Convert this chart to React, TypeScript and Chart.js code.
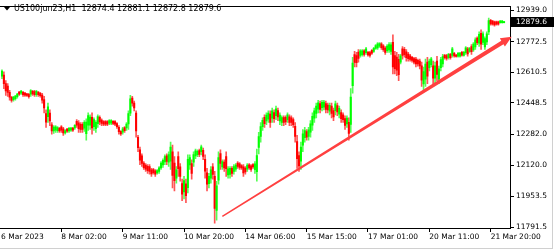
import React, { useEffect, useRef } from 'react';
import { Chart, registerables } from 'chart.js';

Chart.register(...registerables);

const SYMBOL = 'US100jun23,H1';

// H1 bars, oldest first
const OPENS = [
  12591, 12596, 12551, 12538, 12505, 12478, 12466, 12471, 12482, 12506,
  12500, 12505, 12501, 12497, 12495, 12495, 12510, 12509, 12493, 12505,
  12500, 12490, 12466, 12393, 12376, 12395, 12333, 12300, 12304, 12302,
  12314, 12322, 12311, 12290, 12310, 12300, 12304, 12315, 12316, 12352,
  12343, 12335, 12335, 12315, 12286, 12331, 12331, 12373, 12323, 12312,
  12339, 12372, 12358, 12350, 12350, 12350, 12342, 12342, 12351, 12350,
  12339, 12320, 12298, 12294, 12318, 12316, 12338, 12395, 12474, 12448,
  12395, 12266, 12200, 12168, 12130, 12119, 12113, 12112, 12094, 12096,
  12089, 12078, 12086, 12105, 12120, 12137, 12168, 12135, 12140, 12190,
  12130, 12050, 12165, 12110, 12022, 11977, 12020, 12000, 12120, 12128,
  12135, 12168, 12175, 12197, 12190, 12198, 12150, 12078, 12021, 12050,
  12110, 12060, 11880, 12040, 12180, 12110, 12136, 12165, 12068, 12070,
  12102, 12086, 12098, 12130, 12126, 12117, 12110, 12104, 12098, 12121,
  12115, 12122, 12095, 12085, 12213, 12272, 12323, 12373, 12353, 12363,
  12390, 12368, 12398, 12382, 12408, 12353, 12345, 12371, 12372, 12360,
  12375, 12370, 12360, 12325, 12244, 12170, 12140, 12225, 12265, 12297,
  12272, 12294, 12331, 12368, 12393, 12416, 12446, 12424, 12427, 12446,
  12438, 12405, 12432, 12408, 12408, 12435, 12389, 12398, 12386, 12366,
  12338, 12346, 12335, 12540, 12705, 12700, 12718, 12700, 12705, 12725,
  12715, 12717, 12716, 12727, 12722, 12738, 12740, 12749, 12762, 12752,
  12740, 12726, 12730, 12722, 12770, 12700, 12692, 12680, 12665, 12735,
  12733, 12720, 12708, 12699, 12690, 12684, 12681, 12674, 12671, 12645,
  12550, 12575, 12665, 12635, 12652, 12645, 12580, 12670, 12575, 12635,
  12655, 12701, 12700, 12688, 12706, 12700, 12712, 12703, 12696, 12697,
  12717, 12701, 12715, 12735, 12722, 12748, 12730, 12745, 12792, 12765,
  12818, 12770, 12745, 12772, 12825, 12887, 12882, 12878, 12878, 12878,
  12874, 12874, 12874.4,
];

const HIGHS = [
  12624, 12613, 12567, 12551, 12515, 12484, 12484, 12489, 12500, 12510,
  12515, 12510, 12505, 12500, 12500, 12520, 12515, 12515, 12515, 12510,
  12505, 12500, 12484, 12412, 12448, 12412, 12345, 12329, 12329, 12324,
  12319, 12329, 12319, 12308, 12314, 12319, 12319, 12319, 12334, 12360,
  12355, 12345, 12345, 12355, 12365, 12396, 12386, 12396, 12370, 12355,
  12386, 12381, 12365, 12355, 12355, 12355, 12360, 12360, 12355, 12355,
  12345, 12329, 12303, 12319, 12324, 12345, 12407, 12489, 12484, 12458,
  12407, 12277, 12215, 12179, 12138, 12127, 12122, 12122, 12102, 12102,
  12096, 12096, 12112, 12138, 12153, 12174, 12179, 12190, 12241, 12226,
  12164, 12112, 12190, 12127, 12045, 12060, 12045, 12174, 12174, 12148,
  12190, 12205, 12200, 12205, 12226, 12210, 12174, 12102, 12076, 12112,
  12127, 12086, 12034, 12190, 12200, 12148, 12148, 12190, 12112, 12112,
  12112, 12122, 12127, 12138, 12133, 12122, 12122, 12112, 12127, 12127,
  12122, 12127, 12138, 12205, 12293, 12345, 12370, 12386, 12396, 12407,
  12407, 12422, 12412, 12432, 12422, 12396, 12381, 12381, 12381, 12396,
  12386, 12381, 12370, 12345, 12277, 12190, 12241, 12308, 12319, 12308,
  12319, 12355, 12396, 12422, 12448, 12463, 12458, 12463, 12463, 12458,
  12448, 12448, 12448, 12422, 12458, 12448, 12432, 12412, 12396, 12381,
  12381, 12370, 12525, 12691, 12722, 12717, 12732, 12732, 12732, 12732,
  12743, 12722, 12722, 12732, 12743, 12758, 12768, 12768, 12768, 12758,
  12748, 12758, 12768, 12768, 12810, 12722, 12717, 12706, 12706, 12748,
  12743, 12732, 12717, 12706, 12696, 12691, 12691, 12681, 12681, 12665,
  12639, 12681, 12691, 12681, 12691, 12670, 12665, 12696, 12644, 12691,
  12706, 12706, 12706, 12712, 12712, 12743, 12717, 12706, 12717, 12717,
  12722, 12722, 12748, 12743, 12743, 12758, 12768, 12794, 12799, 12825,
  12836, 12825, 12799, 12825, 12898, 12892, 12887, 12882, 12882, 12882,
  12887, 12887, 12881.1,
];

const LOWS = [
  12577, 12525, 12489, 12484, 12463, 12453, 12458, 12463, 12474, 12489,
  12494, 12484, 12484, 12484, 12474, 12484, 12489, 12484, 12484, 12484,
  12479, 12448, 12396, 12319, 12345, 12329, 12283, 12288, 12293, 12293,
  12293, 12293, 12277, 12283, 12293, 12293, 12298, 12298, 12308, 12319,
  12293, 12293, 12293, 12298, 12252, 12303, 12308, 12283, 12303, 12293,
  12319, 12334, 12329, 12329, 12329, 12329, 12334, 12334, 12334, 12329,
  12314, 12283, 12277, 12283, 12293, 12303, 12308, 12381, 12432, 12407,
  12267, 12190, 12122, 12112, 12096, 12086, 12076, 12071, 12060, 12071,
  12060, 12071, 12076, 12096, 12107, 12122, 12122, 12112, 12096, 11998,
  11983, 12024, 12060, 12034, 11931, 11941, 11921, 11972, 12096, 12045,
  12112, 12153, 12164, 12164, 12174, 12148, 12050, 11983, 11998, 12024,
  12045, 11812, 11828, 12019, 12096, 12096, 12086, 12060, 12050, 12050,
  12060, 12071, 12086, 12102, 12096, 12096, 12060, 12071, 12086, 12096,
  12086, 12102, 12076, 12034, 12179, 12241, 12303, 12319, 12334, 12345,
  12319, 12345, 12345, 12360, 12355, 12334, 12329, 12329, 12334, 12345,
  12329, 12329, 12319, 12241, 12102, 12086, 12096, 12190, 12241, 12252,
  12252, 12267, 12303, 12345, 12370, 12396, 12396, 12407, 12412, 12396,
  12396, 12386, 12370, 12355, 12386, 12381, 12370, 12345, 12345, 12308,
  12319, 12252, 12293, 12500, 12639, 12639, 12665, 12691, 12696, 12696,
  12706, 12696, 12691, 12706, 12717, 12732, 12732, 12743, 12732, 12722,
  12706, 12717, 12717, 12706, 12603, 12603, 12593, 12567, 12655, 12681,
  12691, 12670, 12670, 12670, 12665, 12655, 12639, 12644, 12629, 12536,
  12515, 12536, 12551, 12619, 12639, 12541, 12551, 12567, 12551, 12619,
  12639, 12681, 12675, 12681, 12681, 12691, 12691, 12691, 12691, 12691,
  12696, 12696, 12706, 12696, 12717, 12706, 12722, 12732, 12758, 12748,
  12732, 12758, 12732, 12758, 12810, 12861, 12861, 12856, 12861, 12861,
  12872, 12872, 12872.8,
];

const CLOSES = [
  12617, 12551, 12512, 12504, 12479, 12462, 12480, 12485, 12496, 12495,
  12512, 12492, 12490, 12489, 12482, 12514, 12497, 12493, 12510, 12492,
  12487, 12464, 12422, 12347, 12428, 12354, 12301, 12321, 12322, 12318,
  12301, 12304, 12290, 12303, 12299, 12314, 12315, 12304, 12330, 12331,
  12312, 12308, 12308, 12346, 12348, 12382, 12374, 12317, 12360, 12346,
  12376, 12348, 12340, 12337, 12337, 12336, 12355, 12356, 12340, 12337,
  12323, 12297, 12285, 12312, 12302, 12337, 12392, 12470, 12448, 12422,
  12300, 12212, 12145, 12128, 12106, 12098, 12090, 12086, 12073, 12080,
  12071, 12091, 12105, 12130, 12145, 12164, 12139, 12175, 12215, 12065,
  12037, 12095, 12100, 12060, 11965, 12037, 11958, 12150, 12160, 12075,
  12175, 12195, 12193, 12176, 12216, 12166, 12087, 12018, 12060, 12095,
  12070, 11890, 12010, 12160, 12128, 12138, 12104, 12100, 12100, 12102,
  12076, 12112, 12120, 12112, 12107, 12104, 12078, 12083, 12119, 12105,
  12097, 12110, 12126, 12170, 12270, 12324, 12357, 12339, 12384, 12395,
  12345, 12407, 12365, 12418, 12375, 12384, 12371, 12345, 12348, 12386,
  12346, 12345, 12334, 12272, 12153, 12115, 12215, 12285, 12303, 12268,
  12306, 12338, 12378, 12407, 12432, 12450, 12415, 12452, 12453, 12415,
  12412, 12436, 12393, 12375, 12444, 12401, 12420, 12365, 12360, 12330,
  12369, 12287, 12480, 12660, 12664, 12662, 12685, 12725, 12725, 12706,
  12736, 12703, 12700, 12713, 12738, 12753, 12762, 12763, 12742, 12731,
  12716, 12750, 12758, 12756, 12640, 12630, 12622, 12598, 12698, 12700,
  12705, 12688, 12683, 12680, 12674, 12665, 12655, 12655, 12645, 12570,
  12615, 12655, 12590, 12670, 12682, 12580, 12645, 12600, 12630, 12678,
  12695, 12688, 12684, 12706, 12689, 12735, 12698, 12695, 12712, 12713,
  12702, 12717, 12741, 12708, 12738, 12720, 12760, 12783, 12768, 12812,
  12760, 12815, 12790, 12815, 12885, 12868, 12866, 12862, 12866, 12866,
  12883, 12883, 12879.6,
];

// time axis: bar index of each label, and its text
const X_TICK_INDEX = [-0.5, 31, 63, 95, 127, 159, 191, 223, 255];
const X_TICK_LABELS = [
  '6 Mar 2023', '8 Mar 02:00', '9 Mar 11:00', '10 Mar 20:00', '14 Mar 06:00',
  '15 Mar 15:00', '17 Mar 01:00', '20 Mar 11:00', '21 Mar 20:00',
];
const Y_TICKS = [11791.5, 11953.5, 12120.0, 12282.0, 12448.5, 12610.5, 12772.5, 12939.0];

const X_MIN = -0.52;
const X_MAX = 265.1;
const Y_MIN = 11786.3;
const Y_MAX = 12959.7;

// trend arrow: [bar index, price]
const ARROW_FROM = [115, 11848];
const ARROW_TO = [266, 12800];

const FONT = '"DejaVu Sans", Verdana, sans-serif';
const UP = '#00ff00';
const DOWN = '#ff0000';
const UP_WICK = '#55ff55';
const DOWN_WICK = '#ff5555';

const isUp = (i: number) => CLOSES[i] >= OPENS[i];

const overlay = {
  id: 'mtOverlay',
  afterDatasetsDraw(chart: any) {
    const ctx = chart.ctx;
    const xs = chart.scales.x;
    const ys = chart.scales.y;
    const x1 = xs.getPixelForValue(ARROW_FROM[0]);
    const y1 = ys.getPixelForValue(ARROW_FROM[1]);
    const x2 = xs.getPixelForValue(ARROW_TO[0]);
    const y2 = ys.getPixelForValue(ARROW_TO[1]);
    const dx = x2 - x1;
    const dy = y2 - y1;
    const len = Math.hypot(dx, dy);
    const ux = dx / len;
    const uy = dy / len;
    const nx = -uy;
    const ny = ux;
    const headLen = 11;
    const headW = 4.8;
    const w1 = 0.7;
    const w2 = 2.1;
    const bx = x2 - ux * headLen;
    const by = y2 - uy * headLen;
    ctx.save();
    ctx.beginPath();
    ctx.moveTo(x1 + nx * w1, y1 + ny * w1);
    ctx.lineTo(bx + nx * w2, by + ny * w2);
    ctx.lineTo(bx + nx * headW, by + ny * headW);
    ctx.lineTo(x2, y2);
    ctx.lineTo(bx - nx * headW, by - ny * headW);
    ctx.lineTo(bx - nx * w2, by - ny * w2);
    ctx.lineTo(x1 - nx * w1, y1 - ny * w1);
    ctx.closePath();
    ctx.fillStyle = '#ff4040';
    ctx.fill();
    ctx.restore();
  },
  afterDraw(chart: any) {
    const ctx = chart.ctx;
    const area = chart.chartArea;
    const ys = chart.scales.y;
    ctx.save();
    // top frame line
    ctx.fillStyle = '#000';
    ctx.fillRect(0, Math.floor(area.top), Math.round(area.right) + 1, 1);

    // window frame
    ctx.fillStyle = '#d0d0d0';
    ctx.fillRect(552, 0, 1, 249);
    ctx.fillRect(0, 248, 553, 1);

    // title
    const n = CLOSES.length - 1;
    const title = `${SYMBOL}  ${OPENS[n].toFixed(1)} ${HIGHS[n].toFixed(1)} ${LOWS[n].toFixed(1)} ${CLOSES[n].toFixed(1)}`;
    ctx.fillStyle = '#000';
    ctx.beginPath();
    ctx.moveTo(4, 7);
    ctx.lineTo(10, 7);
    ctx.lineTo(7, 10.5);
    ctx.closePath();
    ctx.fill();
    ctx.font = `8px ${FONT}`;
    ctx.textBaseline = 'middle';
    ctx.textAlign = 'left';
    ctx.fillText(title, 14, 9);

    // current price box
    ctx.font = `7.5px ${FONT}`;
    const yp = ys.getPixelForValue(CLOSES[n]);
    ctx.fillStyle = '#000';
    ctx.fillRect(Math.round(area.right) + 1, Math.round(yp - 5), 43, 10);
    ctx.fillStyle = '#fff';
    ctx.fillText(CLOSES[n].toFixed(1), 516, yp);
    ctx.restore();
  },
};

export default function App() {
  const ref = useRef<HTMLCanvasElement | null>(null);

  useEffect(() => {
    const canvas = ref.current;
    if (!canvas) return;
    const idx = OPENS.map((_, i) => i);
    const chart = new Chart(canvas, {
      type: 'bar',
      data: {
        datasets: [
          {
            label: 'body',
            data: idx.map((i) => ({ x: i, y: [OPENS[i], CLOSES[i]] })) as any,
            backgroundColor: idx.map((i) => (isUp(i) ? UP : DOWN)),
            borderWidth: 0,
            grouped: false,
            categoryPercentage: 1,
            barPercentage: 1,
            maxBarThickness: 1.4,
          } as any,
          {
            label: 'range',
            data: idx.map((i) => ({ x: i, y: [LOWS[i], HIGHS[i]] })) as any,
            backgroundColor: idx.map((i) => (isUp(i) ? UP_WICK : DOWN_WICK)),
            borderWidth: 0,
            grouped: false,
            categoryPercentage: 1,
            barPercentage: 1,
            maxBarThickness: 1,
          } as any,
        ],
      },
      options: {
        animation: false,
        responsive: false,
        devicePixelRatio: 1,
        events: [],
        layout: { padding: { top: 1, left: 0, right: 0, bottom: 0 } },
        plugins: { legend: { display: false }, tooltip: { enabled: false } },
        scales: {
          x: {
            type: 'linear',
            position: 'bottom',
            min: X_MIN,
            max: X_MAX,
            offset: false,
            afterBuildTicks: (scale: any) => {
              scale.ticks = X_TICK_INDEX.map((v) => ({ value: v }));
            },
            afterFit: (scale: any) => {
              scale.height = 22;
            },
            grid: {
              display: true,
              offset: false,
              drawOnChartArea: false,
              drawTicks: true,
              tickLength: 4,
              color: '#000',
              tickColor: (c: any) => (c.index === 0 ? 'rgba(0,0,0,0)' : '#000'),
            },
            border: { display: true, color: '#000', width: 1 },
            ticks: {
              autoSkip: false,
              maxRotation: 0,
              minRotation: 0,
              align: 'start',
              padding: 1,
              color: '#000',
              font: { family: FONT, size: 7.5 },
              callback: (_v: any, i: number) => X_TICK_LABELS[i],
            },
          } as any,
          y: {
            type: 'linear',
            position: 'right',
            min: Y_MIN,
            max: Y_MAX,
            beginAtZero: false,
            afterBuildTicks: (scale: any) => {
              scale.ticks = Y_TICKS.map((v) => ({ value: v }));
            },
            afterFit: (scale: any) => {
              scale.width = 44;
            },
            grid: {
              display: true,
              drawOnChartArea: false,
              drawTicks: true,
              tickLength: 4,
              color: '#000',
            },
            border: { display: true, color: '#000', width: 1 },
            ticks: {
              autoSkip: false,
              padding: 2,
              color: '#000',
              font: { family: FONT, size: 7.5 },
              callback: (v: any) => Number(v).toFixed(1),
            },
          } as any,
        },
      },
      plugins: [overlay],
    });
    return () => chart.destroy();
  }, []);

  return (
    <div style={{ position: 'absolute', left: 0, top: 0, width: 554, height: 250, background: '#fff' }}>
      <canvas ref={ref} width={554} height={250} style={{ display: 'block' }} />
    </div>
  );
}
